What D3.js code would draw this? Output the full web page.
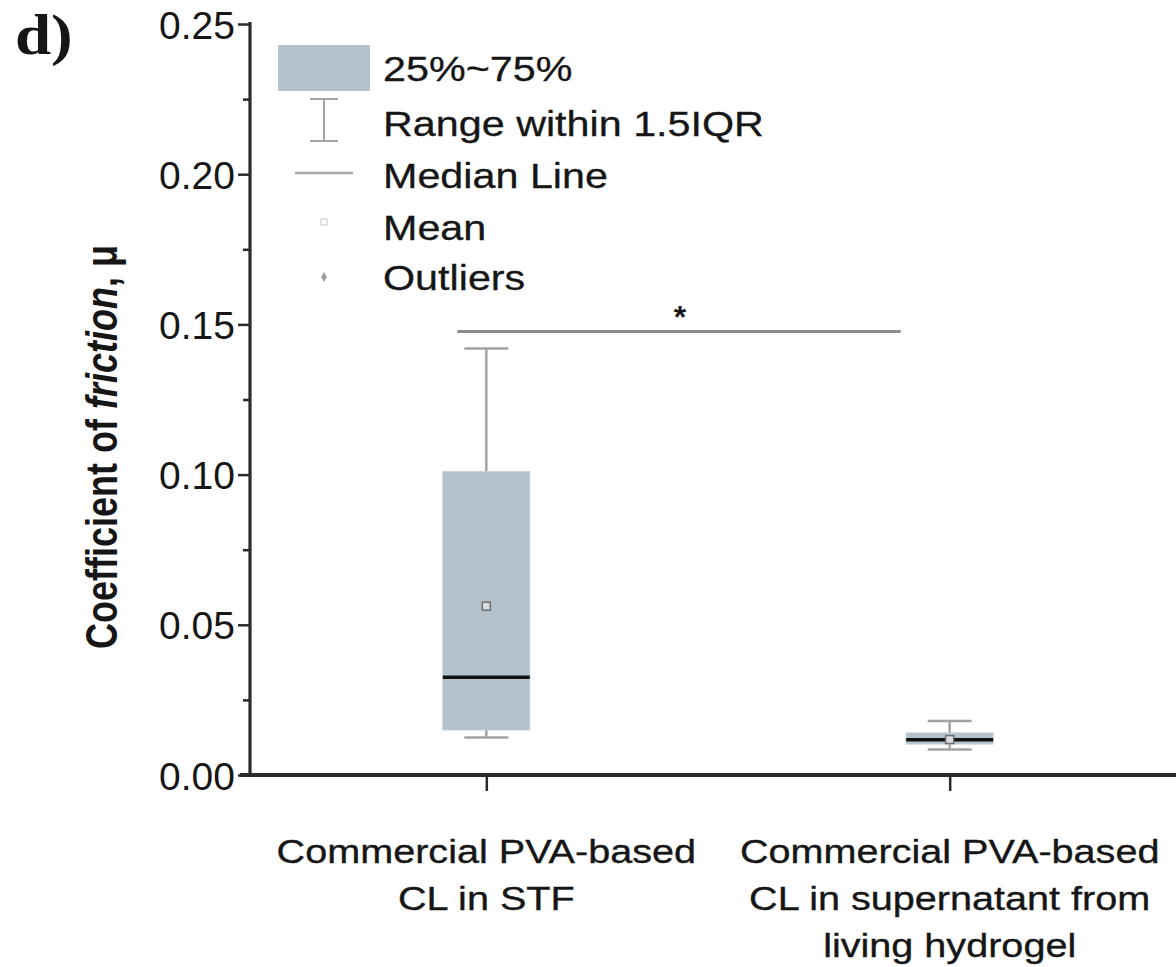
<!DOCTYPE html>
<html>
<head>
<meta charset="utf-8">
<script src="https://cdn.jsdelivr.net/npm/d3@7"></script>
<style>
  html, body { margin: 0; padding: 0; background: #fff; }
  svg { display: block; }
  text { font-family: "Liberation Sans", Arial, sans-serif; fill: #161616; }
</style>
</head>
<body>
<svg id="chart" width="1176" height="967"></svg>
<script>
// Box statistics for each contact-lens condition (coefficient of friction)
const categories = [
  ["Commercial PVA-based", "CL in STF"],
  ["Commercial PVA-based", "CL in supernatant from", "living hydrogel"]
];
const whiskerLow  = [0.0125, 0.0085];
const q1          = [0.0150, 0.0103];
const median      = [0.0325, 0.0117];
const mean        = [0.0562, 0.0118];
const q3          = [0.1010, 0.0140];
const whiskerHigh = [0.1420, 0.0180];

const yTicks = [0, 0.05, 0.10, 0.15, 0.20, 0.25];
const yMinor = [0.025, 0.075, 0.125, 0.175, 0.225];
const legendLabels = ["25%~75%", "Range within 1.5IQR", "Median Line", "Mean", "Outliers"];
const significance = { from: 0, to: 1, level: 0.1476, label: "*" };

const boxFill = "#b4c2cc";
const whiskerColor = "#a3a3a3";
const axisColor = "#2a2a2a";

const svg = d3.select("#chart");

const y = d3.scaleLinear().domain([0, 0.25]).range([775, 24]);
const x = d3.scalePoint().domain(d3.range(categories.length)).range([250, 1186]).padding(0.51);

const boxW = 87, capW = 44;

// Boxes
const g = svg.append("g");
categories.forEach((c, i) => {
  const cx = x(i);
  // whiskers
  g.append("line").attr("x1", cx).attr("x2", cx).attr("y1", y(q3[i])).attr("y2", y(whiskerHigh[i]))
    .attr("stroke", whiskerColor).attr("stroke-width", 2.5);
  g.append("line").attr("x1", cx).attr("x2", cx).attr("y1", y(q1[i])).attr("y2", y(whiskerLow[i]))
    .attr("stroke", whiskerColor).attr("stroke-width", 2.5);
  [whiskerHigh[i], whiskerLow[i]].forEach(v => {
    g.append("line").attr("x1", cx - capW / 2).attr("x2", cx + capW / 2).attr("y1", y(v)).attr("y2", y(v))
      .attr("stroke", whiskerColor).attr("stroke-width", 2.5);
  });
  // interquartile box
  g.append("rect").attr("x", cx - boxW / 2).attr("width", boxW)
    .attr("y", y(q3[i])).attr("height", y(q1[i]) - y(q3[i]))
    .attr("fill", boxFill).attr("stroke", "#c3ced6").attr("stroke-width", 1);
  // median
  g.append("line").attr("x1", cx - boxW / 2).attr("x2", cx + boxW / 2).attr("y1", y(median[i])).attr("y2", y(median[i]))
    .attr("stroke", "#111").attr("stroke-width", 3.5);
  // mean marker
  g.append("rect").attr("x", cx - 4).attr("y", y(mean[i]) - 4).attr("width", 8).attr("height", 8)
    .attr("fill", "#d8dde0").attr("stroke", "#6f6f6f").attr("stroke-width", 1.5);
});

// Significance bracket
svg.append("line")
  .attr("x1", x(significance.from) - 29).attr("x2", x(significance.to) - 49)
  .attr("y1", y(significance.level)).attr("y2", y(significance.level))
  .attr("stroke", "#8c8c8c").attr("stroke-width", 3);
svg.append("text")
  .attr("x", (x(significance.from) + x(significance.to)) / 2 - 38)
  .attr("y", y(significance.level) - 4)
  .attr("text-anchor", "middle").attr("font-size", 32).attr("font-weight", "bold")
  .text(significance.label);

// Y axis
const yAxis = svg.append("g").attr("transform", "translate(250,0)");
yAxis.call(d3.axisLeft(y).tickValues(yTicks).tickSize(12).tickFormat(d3.format(".2f")));
yAxis.append("g").call(d3.axisLeft(y).tickValues(yMinor).tickSize(7).tickFormat(""));
yAxis.selectAll(".domain").remove();
yAxis.selectAll("line").attr("stroke", axisColor).attr("stroke-width", 2.5);
yAxis.selectAll("text").attr("font-size", 39).attr("fill", "#1e1e1e")
  .attr("x", -15).attr("dy", "0.36em");
svg.append("line").attr("x1", 250).attr("x2", 250).attr("y1", 22).attr("y2", 776)
  .attr("stroke", axisColor).attr("stroke-width", 3.2);

// X axis
const xAxis = svg.append("g").attr("transform", "translate(0,775)");
xAxis.call(d3.axisBottom(x).tickSize(16).tickFormat(""));
xAxis.selectAll(".domain").remove();
xAxis.selectAll("line").attr("stroke", axisColor).attr("stroke-width", 2.5);
svg.append("line").attr("x1", 240).attr("x2", 1176).attr("y1", 775).attr("y2", 775)
  .attr("stroke", axisColor).attr("stroke-width", 3.8);

// Category labels
categories.forEach((lines, i) => {
  const t = svg.append("g").attr("transform", `translate(${x(i)},0) scale(1.2,1)`);
  lines.forEach((ln, k) => {
    t.append("text").attr("x", 0).attr("y", 863 + k * 47)
      .attr("text-anchor", "middle").attr("font-size", 33)
      .attr("stroke", "#161616").attr("stroke-width", 0.35).text(ln);
  });
});

// Y axis title
const title = svg.append("text")
  .attr("transform", "translate(117,447) rotate(-90) scale(1,1.25)")
  .attr("text-anchor", "middle").attr("font-size", 36).attr("font-weight", "bold");
title.append("tspan").text("Coefficient of ");
title.append("tspan").attr("font-style", "italic").text("friction");
title.append("tspan").text(", \u03bc");

// Panel letter
svg.append("g").attr("transform", "translate(15,54) scale(1.12,1)")
  .append("text").attr("x", 0).attr("y", 0)
  .style("font-family", "'Liberation Serif', 'Times New Roman', serif")
  .attr("font-weight", "bold").attr("font-size", 58).attr("fill", "#111").text("d)");

// Legend
const leg = svg.append("g");
const rowY = [68, 123, 175, 227, 277];
const iconX = 324;
leg.append("rect").attr("x", 278).attr("y", 45).attr("width", 92).attr("height", 46).attr("fill", boxFill);
leg.append("line").attr("x1", iconX).attr("x2", iconX).attr("y1", 99).attr("y2", 141).attr("stroke", whiskerColor).attr("stroke-width", 2);
[99, 141].forEach(v => leg.append("line").attr("x1", iconX - 14).attr("x2", iconX + 14).attr("y1", v).attr("y2", v)
  .attr("stroke", whiskerColor).attr("stroke-width", 2));
leg.append("line").attr("x1", iconX - 29).attr("x2", iconX + 29).attr("y1", 173).attr("y2", 173)
  .attr("stroke", "#a8a8a8").attr("stroke-width", 2.5);
leg.append("rect").attr("x", iconX - 3).attr("y", 219).attr("width", 6).attr("height", 6)
  .attr("fill", "none").attr("stroke", "#cfcfcf").attr("stroke-width", 1.2);
leg.append("path").attr("d", d3.symbol(d3.symbolDiamond, 30)()).attr("transform", `translate(${iconX},277)`)
  .attr("fill", "#a0a0a0");
legendLabels.forEach((lab, k) => {
  leg.append("g").attr("transform", `translate(383,${rowY[k]}) scale(1.18,1)`)
    .append("text").attr("x", 0).attr("y", 0).attr("dy", "0.36em").attr("font-size", 35)
    .attr("stroke", "#161616").attr("stroke-width", 0.3).text(lab);
});
</script>
</body>
</html>
